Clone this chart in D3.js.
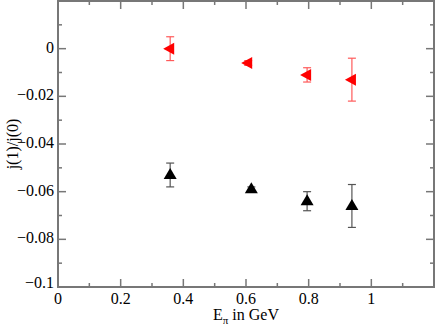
<!DOCTYPE html>
<html>
<head>
<meta charset="utf-8">
<script src="https://cdn.jsdelivr.net/npm/d3@7"></script>
<style>
  body { margin: 0; background: #fff; }
</style>
</head>
<body>
<div id="graf"></div>
<script>
// datos
energia  = [0.358, 0.607, 0.795, 0.938]
rojoY    = [0.000, -0.006, -0.011, -0.013]
rojoErr  = [0.005, 0.001, 0.003, 0.009]
energiaN = [0.358, 0.617, 0.795, 0.938]
negroY   = [-0.053, -0.059, -0.064, -0.066]
negroErr = [0.005, 0.001, 0.004, 0.009]
xTicks = [0, 0.2, 0.4, 0.6, 0.8, 1]
yTicks = [0, -0.02, -0.04, -0.06, -0.08, -0.1]

ancho_total = 436
alto_total  = 327
margins = { top: 1, left: 58, right: 2, bottom: 40 }
ancho = ancho_total - margins.left - margins.right
alto  = alto_total - margins.top - margins.bottom

svg = d3.select('#graf').append('svg')
        .attr('width', ancho_total)
        .attr('height', alto_total)
        .attr('font-family', "'Liberation Serif', 'Times New Roman', serif")

g = svg.append('g')
       .attr('transform', `translate(${ margins.left }, ${ margins.top })`)

x = d3.scaleLinear().domain([0, 1.2]).range([0, ancho])
y = d3.scaleLinear().domain([-0.1, 0.02]).range([alto, 0])

// ticks menores y mayores, hacia adentro, en los cuatro lados
menoresX = d3.range(0, 12).map(d => d / 10)
menoresY = d3.range(-10, 3).map(d => d / 100)
gris = '#777'

function ejes() {
  let t = g.append('g').attr('stroke', gris).attr('stroke-width', 1.5)
  menoresX.forEach(v => {
    let mayor = Math.abs(v * 5 - Math.round(v * 5)) < 1e-6
    let l = mayor ? 8 : 4
    t.append('line').attr('x1', x(v)).attr('x2', x(v)).attr('y1', alto).attr('y2', alto - l)
    t.append('line').attr('x1', x(v)).attr('x2', x(v)).attr('y1', 0).attr('y2', l)
  })
  menoresY.forEach(v => {
    let mayor = Math.abs(v * 50 - Math.round(v * 50)) < 1e-6
    let l = mayor ? 8 : 4
    t.append('line').attr('x1', 0).attr('x2', l).attr('y1', y(v)).attr('y2', y(v))
    t.append('line').attr('x1', ancho).attr('x2', ancho - l).attr('y1', y(v)).attr('y2', y(v))
  })
  g.append('rect')
   .attr('x', 0).attr('y', 0).attr('width', ancho).attr('height', alto)
   .attr('fill', 'none').attr('stroke', gris).attr('stroke-width', 2)

  g.selectAll('.tx').data(xTicks).join('text')
   .attr('x', d => x(d)).attr('y', alto + 17)
   .attr('text-anchor', 'middle').attr('font-size', 16)
   .text(d => d3.format('')(d))
  g.selectAll('.ty').data(yTicks).join('text')
   .attr('x', -4).attr('y', d => y(d) + (d === -0.1 ? 1 : 4))
   .attr('text-anchor', 'end').attr('font-size', 16)
   .text(d => d === 0 ? '0' : d3.format('')(d))
}
ejes()

// títulos
xt = svg.append('text')
        .attr('x', margins.left + ancho / 2).attr('y', 320)
        .attr('text-anchor', 'middle').attr('font-size', 16)
xt.append('tspan').text('E')
xt.append('tspan').attr('font-size', 11).attr('dy', 4).text('π')
xt.append('tspan').attr('dy', -4).text(' in GeV')

svg.append('text')
   .attr('transform', `translate(18, ${ margins.top + alto / 2 }) rotate(-90)`)
   .attr('text-anchor', 'middle').attr('font-size', 16)
   .text('j(1)/j(0)')

function serie(xs, ys, es, colorBarra, colorMarca, forma) {
  let datos = xs.map((v, i) => ({ x: v, y: ys[i], e: es[i] }))
  let s = g.append('g')
  let barras = s.selectAll('g.barra').data(datos).join('g')
                .attr('stroke', colorBarra).attr('stroke-width', 1.2)
  barras.append('line')
        .attr('x1', d => x(d.x)).attr('x2', d => x(d.x))
        .attr('y1', d => y(d.y + d.e)).attr('y2', d => y(d.y - d.e))
  barras.append('line')
        .attr('x1', d => x(d.x) - 4).attr('x2', d => x(d.x) + 4)
        .attr('y1', d => y(d.y + d.e)).attr('y2', d => y(d.y + d.e))
  barras.append('line')
        .attr('x1', d => x(d.x) - 4).attr('x2', d => x(d.x) + 4)
        .attr('y1', d => y(d.y - d.e)).attr('y2', d => y(d.y - d.e))
  s.selectAll('path').data(datos).join('path')
   .attr('fill', colorMarca)
   .attr('d', d => {
     let cx = x(d.x), cy = y(d.y)
     if (forma === 'arriba')
       return `M${cx - 6.5},${cy + 4}L${cx + 6.5},${cy + 4}L${cx},${cy - 7}Z`
     return `M${cx - 7},${cy}L${cx + 4},${cy - 6}L${cx + 4},${cy + 6}Z`
   })
}

serie(energia, rojoY, rojoErr, '#ff5a5a', '#ff0000', 'izq')
serie(energiaN, negroY, negroErr, '#555', '#000', 'arriba')
</script>
</body>
</html>
